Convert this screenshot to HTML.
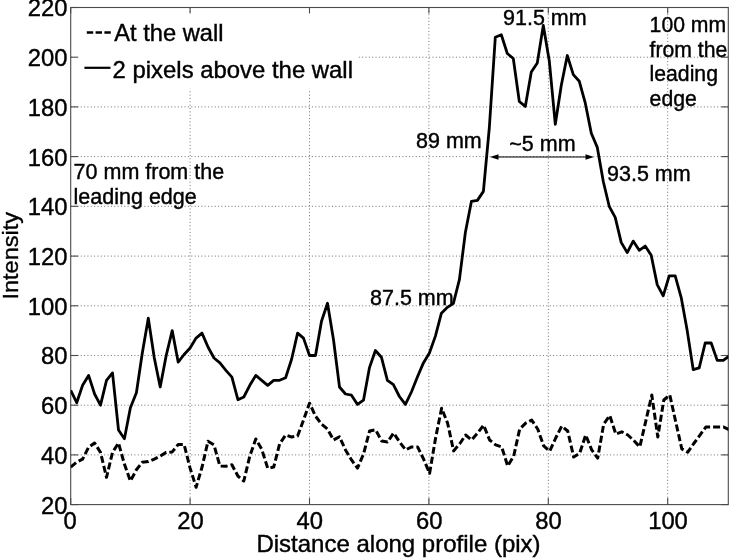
<!DOCTYPE html>
<html lang="en"><head><meta charset="utf-8"><title>Intensity profile</title>
<style>html,body{margin:0;padding:0;background:#fff;}body{width:730px;height:560px;overflow:hidden;}svg{display:block;}text{font-family:"Liberation Sans",Arial,Helvetica,sans-serif;fill:#000;stroke:#000;stroke-width:0.4px;}</style></head><body>
<svg width="730" height="560" viewBox="0 0 730 560">
<rect x="0" y="0" width="730" height="560" fill="#fff"/>
<g stroke="#707070" stroke-width="1" stroke-dasharray="1 2.35" fill="none"><line x1="190.1" y1="7.5" x2="190.1" y2="504.6"/><line x1="309.5" y1="7.5" x2="309.5" y2="504.6"/><line x1="428.9" y1="7.5" x2="428.9" y2="504.6"/><line x1="548.3" y1="7.5" x2="548.3" y2="504.6"/><line x1="667.7" y1="7.5" x2="667.7" y2="504.6"/><line x1="70.7" y1="454.9" x2="728.3" y2="454.9"/><line x1="70.7" y1="405.2" x2="728.3" y2="405.2"/><line x1="70.7" y1="355.5" x2="728.3" y2="355.5"/><line x1="70.7" y1="305.8" x2="728.3" y2="305.8"/><line x1="70.7" y1="256.1" x2="728.3" y2="256.1"/><line x1="70.7" y1="206.3" x2="728.3" y2="206.3"/><line x1="70.7" y1="156.6" x2="728.3" y2="156.6"/><line x1="70.7" y1="106.9" x2="728.3" y2="106.9"/><line x1="70.7" y1="57.2" x2="728.3" y2="57.2"/></g>
<rect x="72" y="13.5" width="286.5" height="75.3" fill="#fff"/>
<rect x="70.7" y="7.5" width="657.6" height="497.1" fill="none" stroke="#4a4a4a" stroke-width="1.1"/>
<g stroke="#4a4a4a" stroke-width="1.1" fill="none"><line x1="70.7" y1="504.6" x2="70.7" y2="498.1"/><line x1="70.7" y1="7.5" x2="70.7" y2="13.5"/><line x1="190.1" y1="504.6" x2="190.1" y2="498.1"/><line x1="190.1" y1="7.5" x2="190.1" y2="13.5"/><line x1="309.5" y1="504.6" x2="309.5" y2="498.1"/><line x1="309.5" y1="7.5" x2="309.5" y2="13.5"/><line x1="428.9" y1="504.6" x2="428.9" y2="498.1"/><line x1="428.9" y1="7.5" x2="428.9" y2="13.5"/><line x1="548.3" y1="504.6" x2="548.3" y2="498.1"/><line x1="548.3" y1="7.5" x2="548.3" y2="13.5"/><line x1="667.7" y1="504.6" x2="667.7" y2="498.1"/><line x1="667.7" y1="7.5" x2="667.7" y2="13.5"/><line x1="70.7" y1="504.6" x2="78.2" y2="504.6"/><line x1="728.3" y1="504.6" x2="721.3" y2="504.6"/><line x1="70.7" y1="454.9" x2="78.2" y2="454.9"/><line x1="728.3" y1="454.9" x2="721.3" y2="454.9"/><line x1="70.7" y1="405.2" x2="78.2" y2="405.2"/><line x1="728.3" y1="405.2" x2="721.3" y2="405.2"/><line x1="70.7" y1="355.5" x2="78.2" y2="355.5"/><line x1="728.3" y1="355.5" x2="721.3" y2="355.5"/><line x1="70.7" y1="305.8" x2="78.2" y2="305.8"/><line x1="728.3" y1="305.8" x2="721.3" y2="305.8"/><line x1="70.7" y1="256.1" x2="78.2" y2="256.1"/><line x1="728.3" y1="256.1" x2="721.3" y2="256.1"/><line x1="70.7" y1="206.3" x2="78.2" y2="206.3"/><line x1="728.3" y1="206.3" x2="721.3" y2="206.3"/><line x1="70.7" y1="156.6" x2="78.2" y2="156.6"/><line x1="728.3" y1="156.6" x2="721.3" y2="156.6"/><line x1="70.7" y1="106.9" x2="78.2" y2="106.9"/><line x1="728.3" y1="106.9" x2="721.3" y2="106.9"/><line x1="70.7" y1="57.2" x2="78.2" y2="57.2"/><line x1="728.3" y1="57.2" x2="721.3" y2="57.2"/><line x1="70.7" y1="7.5" x2="78.2" y2="7.5"/><line x1="728.3" y1="7.5" x2="721.3" y2="7.5"/></g>
<g font-size="23.8"><text x="70.2" y="528.8" text-anchor="middle">0</text><text x="190.4" y="528.8" text-anchor="middle">20</text><text x="309.8" y="528.8" text-anchor="middle">40</text><text x="429.2" y="528.8" text-anchor="middle">60</text><text x="548.6" y="528.8" text-anchor="middle">80</text><text x="668.0" y="528.8" text-anchor="middle">100</text><text x="67.5" y="513.5" text-anchor="end">20</text><text x="67.5" y="463.8" text-anchor="end">40</text><text x="67.5" y="414.1" text-anchor="end">60</text><text x="67.5" y="364.4" text-anchor="end">80</text><text x="67.5" y="314.7" text-anchor="end">100</text><text x="67.5" y="264.9" text-anchor="end">120</text><text x="67.5" y="215.2" text-anchor="end">140</text><text x="67.5" y="165.5" text-anchor="end">160</text><text x="67.5" y="115.8" text-anchor="end">180</text><text x="67.5" y="66.1" text-anchor="end">200</text><text x="67.5" y="15.7" text-anchor="end">220</text></g>
<text x="398.5" y="551.7" font-size="24" text-anchor="middle">Distance along profile (pix)</text>
<text transform="translate(18.1,255.8) rotate(-90) scale(1,0.93)" font-size="23.5" text-anchor="middle">Intensity</text>
<defs><clipPath id="ax"><rect x="70.7" y="7.5" width="657.6" height="497.1"/></clipPath></defs>
<path d="M70.7,467.1 L76.7,462.1 L82.6,459.1 L88.6,447.2 L94.6,443.0 L100.5,452.4 L106.5,477.3 L112.5,452.4 L118.5,443.0 L124.4,464.1 L130.4,481.0 L136.4,469.8 L142.3,462.3 L148.3,461.6 L154.3,459.1 L160.2,456.1 L166.2,452.4 L172.2,451.9 L178.2,444.5 L184.1,444.5 L190.1,468.1 L196.1,487.2 L202.0,467.3 L208.0,441.2 L214.0,444.9 L219.9,466.1 L225.9,466.3 L231.9,464.8 L237.9,476.0 L243.8,481.0 L249.8,456.1 L255.8,439.0 L261.7,449.2 L267.7,468.1 L273.7,467.1 L279.6,444.0 L285.6,435.0 L291.6,437.0 L297.6,436.0 L303.5,420.1 L309.5,403.2 L315.5,416.1 L321.5,424.1 L327.5,429.0 L333.5,440.0 L339.5,436.7 L345.5,449.9 L351.5,459.9 L357.5,468.1 L363.5,454.1 L369.6,431.0 L375.6,429.8 L381.6,441.0 L387.6,442.0 L393.6,433.0 L399.6,442.0 L405.6,449.9 L411.6,446.9 L417.6,446.9 L423.6,459.1 L429.6,473.3 L435.6,438.0 L441.6,408.2 L447.6,423.1 L453.6,450.9 L459.6,444.0 L465.6,435.0 L471.6,440.0 L477.6,433.0 L483.6,425.1 L489.6,440.0 L495.7,444.9 L501.7,446.9 L507.7,466.1 L513.7,456.1 L519.7,429.0 L525.7,423.1 L531.7,420.1 L537.7,429.0 L543.7,445.9 L549.7,451.2 L555.7,438.0 L561.7,426.1 L567.7,431.0 L573.7,457.1 L579.7,453.2 L585.7,435.0 L591.7,449.9 L597.7,458.1 L603.7,424.1 L609.8,415.6 L615.8,434.0 L621.8,431.8 L627.8,435.0 L633.8,440.5 L639.8,446.9 L645.8,421.1 L651.8,395.0 L657.8,437.0 L663.8,400.0 L669.8,395.0 L675.8,422.1 L681.8,448.9 L687.8,452.2 L693.8,443.5 L699.8,435.3 L705.8,427.1 L711.8,427.1 L717.8,427.1 L723.8,427.1 L729.9,430.0" fill="none" stroke="#000" stroke-width="3" stroke-dasharray="7 3" stroke-linejoin="round" clip-path="url(#ax)"/>
<path d="M70.7,390.3 L76.7,402.7 L82.6,385.3 L88.6,375.4 L94.6,394.0 L100.5,405.2 L106.5,380.3 L112.5,372.9 L118.5,430.0 L124.4,438.7 L130.4,407.7 L136.4,392.8 L142.3,353.0 L148.3,318.2 L154.3,358.0 L160.2,387.0 L166.2,355.5 L172.2,330.6 L178.2,362.2 L184.1,354.5 L190.1,348.0 L196.1,338.1 L202.0,333.1 L208.0,347.0 L214.0,358.0 L219.9,362.9 L225.9,370.4 L231.9,377.1 L237.9,399.7 L243.8,397.0 L249.8,385.3 L255.8,375.4 L261.7,380.3 L267.7,385.3 L273.7,380.3 L279.6,380.3 L285.6,377.8 L291.6,359.2 L297.6,333.1 L303.5,338.1 L309.5,355.5 L315.5,355.5 L321.5,321.2 L327.5,303.3 L333.5,339.8 L339.5,387.0 L345.5,394.0 L351.5,395.2 L357.5,404.4 L363.5,400.2 L369.4,367.9 L375.4,350.5 L381.4,357.2 L387.4,380.3 L393.4,384.6 L399.4,396.5 L405.4,404.4 L411.4,392.0 L417.4,377.1 L423.4,362.9 L429.4,353.0 L435.4,336.1 L441.4,313.2 L447.4,307.3 L453.4,303.3 L459.4,279.7 L465.4,232.2 L471.4,201.4 L477.4,200.4 L483.4,191.4 L489.3,128.0 L495.3,37.3 L501.3,34.8 L507.3,53.5 L513.3,58.5 L519.3,101.5 L525.3,106.4 L531.3,72.1 L537.3,62.9 L543.3,25.4 L549.3,60.9 L555.3,124.3 L561.3,85.3 L567.3,55.5 L573.3,74.6 L579.3,81.3 L585.3,103.2 L591.3,133.3 L597.3,147.4 L603.3,181.5 L609.2,206.3 L615.2,217.3 L621.2,242.4 L627.2,252.6 L633.2,241.1 L639.2,250.3 L645.2,246.1 L651.2,255.3 L657.2,284.6 L663.2,295.8 L669.2,275.9 L675.2,275.9 L681.2,297.6 L687.2,330.6 L693.2,369.6 L699.2,367.9 L705.2,343.0 L711.2,343.0 L717.2,360.4 L723.2,360.4 L729.1,356.2" fill="none" stroke="#000" stroke-width="2.8" stroke-linejoin="round" clip-path="url(#ax)"/>
<line x1="86.8" y1="32.5" x2="111.5" y2="32.5" stroke="#000" stroke-width="2.4" stroke-dasharray="6.4 2.4"/>
<line x1="84.4" y1="67.8" x2="110.5" y2="67.8" stroke="#000" stroke-width="2.2"/>
<text x="114.2" y="40.5" font-size="23.7">At the wall</text>
<text x="112.6" y="77.7" font-size="23.9">2 pixels above the wall</text>
<g font-size="21.5">
<text x="73.6" y="179.1">70 mm from the</text>
<text x="73.6" y="203.5">leading edge</text>
<text x="503" y="25">91.5 mm</text>
<text x="416" y="148">89 mm</text>
<text x="509.3" y="151">~5 mm</text>
<text x="607" y="181">93.5 mm</text>
<text x="370" y="305">87.5 mm</text>
<text x="649.6" y="32" font-size="21.2">100 mm</text>
<text x="649.6" y="56.5" font-size="21.2">from the</text>
<text x="649.6" y="81" font-size="21.2">leading</text>
<text x="649.6" y="105.5" font-size="21.2">edge</text>
</g>
<line x1="494" y1="157" x2="590" y2="157" stroke="#000" stroke-width="1.2"/>
<path d="M490,157 L498.5,154.2 L498.5,159.8 Z M594,157 L585.5,154.2 L585.5,159.8 Z" fill="#000"/>
</svg></body></html>
